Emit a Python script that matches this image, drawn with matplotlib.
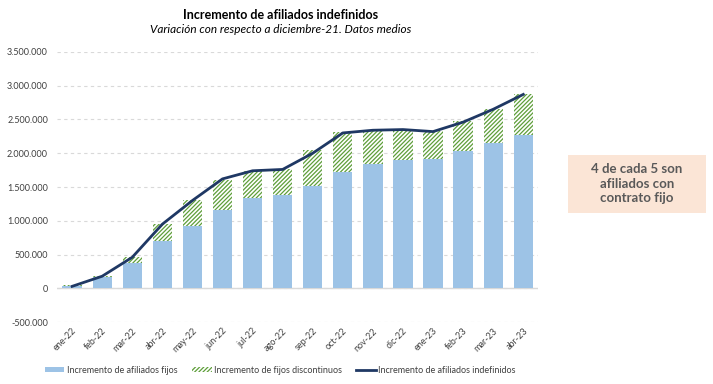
import matplotlib
matplotlib.use("Agg")
import matplotlib.pyplot as plt
from matplotlib.patches import Patch, Rectangle
from matplotlib.lines import Line2D
import matplotlib.ticker as mticker

plt.rcParams['font.family'] = ['Lato', 'DejaVu Sans']
plt.rcParams['hatch.color'] = '#5E9E3A'
plt.rcParams['hatch.linewidth'] = 0.9

months = ['ene-22', 'feb-22', 'mar-22', 'abr-22', 'may-22', 'jun-22', 'jul-22', 'ago-22',
          'sep-22', 'oct-22', 'nov-22', 'dic-22', 'ene-23', 'feb-23', 'mar-23', 'abr-23']
fijos = [40000, 170000, 375000, 697000, 925000, 1167000, 1340000, 1380000,
         1520000, 1717000, 1835000, 1900000, 1910000, 2030000, 2156000, 2265000]
discontinuos = [10000, 20000, 90000, 263000, 381000, 443000, 400000, 380000,
                530000, 593000, 495000, 450000, 420000, 450000, 504000, 615000]
indefinidos = [30000, 180000, 460000, 950000, 1300000, 1620000, 1740000, 1760000,
               2000000, 2300000, 2340000, 2350000, 2320000, 2460000, 2650000, 2870000]

fig = plt.figure(figsize=(7.13, 3.84), dpi=100)
ax = fig.add_axes([0.080, 0.161, 0.675, 0.704])

x = list(range(len(months)))
ax.bar(x, fijos, width=0.64, color='#9DC3E6', zorder=2)
ax.bar(x, discontinuos, width=0.64, bottom=fijos, color='white', hatch='////////',
       edgecolor='#5E9E3A', linewidth=0, zorder=2)
ax.plot(x, indefinidos, color='#1F3864', linewidth=2, zorder=3)

ax.set_xlim(-0.5, len(months) - 0.5)
ax.set_ylim(-500000, 3500000)
ax.yaxis.set_major_locator(mticker.MultipleLocator(500000))
ax.yaxis.set_major_formatter(mticker.FuncFormatter(lambda v, p: f"{int(v):,}".replace(',', '.')))
ax.grid(axis='y', color='#D9D9D9', linestyle=(0, (3, 3)), linewidth=0.8, zorder=0)
ax.axhline(0, color='#D9D9D9', linewidth=1, zorder=1)
for s in ax.spines.values():
    s.set_visible(False)
ax.tick_params(axis='both', length=0, labelsize=6.5, colors='#404040')
ax.tick_params(axis='y', pad=6.5)
ax.tick_params(axis='x', pad=3)
ax.set_xticks(x)
ax.set_xticklabels(months, rotation=45, ha='right', rotation_mode='anchor')

fig.text(0.393, 0.961, 'Incremento de afiliados indefinidos', ha='center', va='center',
         fontsize=9, fontweight='bold', color='black')
fig.text(0.393, 0.922, 'Variación con respecto a diciembre-21. Datos medios', ha='center', va='center',
         fontsize=8.5, style='italic', color='black')

handles = [Patch(facecolor='#9DC3E6', edgecolor='none', label='Incremento de afiliados fijos'),
           Patch(facecolor='white', hatch='////////', edgecolor='#5E9E3A', linewidth=0, label='Incremento de fijos discontinuos'),
           Line2D([0], [0], color='#1F3864', linewidth=2, label='Incremento de afiliados indefinidos')]
fig.legend(handles=handles, loc='center', bbox_to_anchor=(0.393, 0.036), ncol=3, frameon=False,
           fontsize=6.5, handlelength=2.2, handleheight=0.6, columnspacing=1.6, handletextpad=0.25,
           labelcolor='#404040')

fig.patches.append(Rectangle((0.797, 0.445), 0.1935, 0.151, transform=fig.transFigure,
                             facecolor='#FBE5D6', edgecolor='none', zorder=0))
fig.text(0.893, 0.521, '4 de cada 5 son\nafiliados con\ncontrato fijo', ha='center', va='center',
         fontsize=9.5, fontweight='bold', color='#595959', linespacing=1.25)

fig.savefig('out.png', dpi=100)
